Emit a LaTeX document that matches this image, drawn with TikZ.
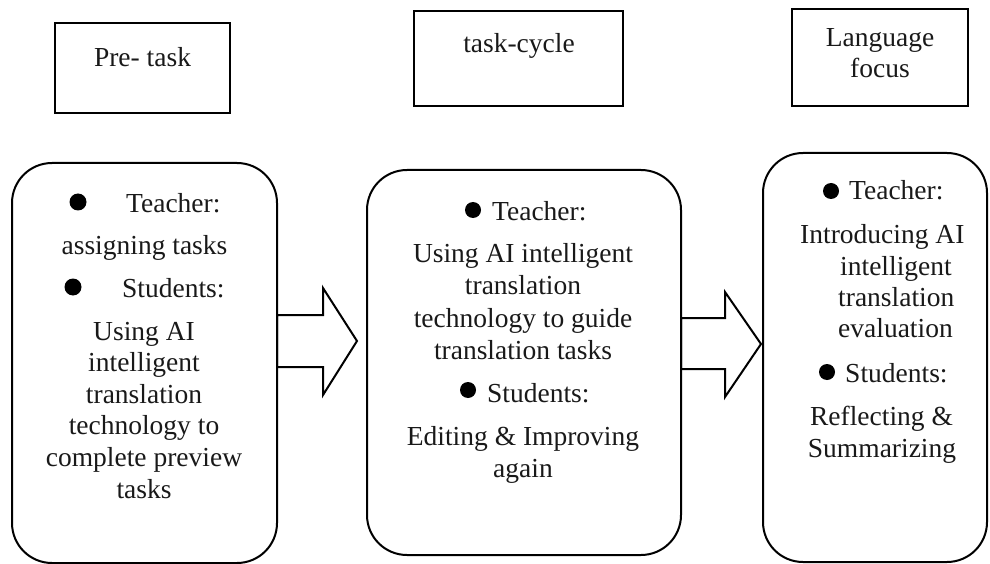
\documentclass[tikz,border=0pt]{standalone}
\usepackage{fontspec}
\setmainfont{Liberation Serif}
\begin{document}
\begin{tikzpicture}[x=1pt,y=-1pt,
  txt/.style={inner sep=0pt,font=\fontsize{27.5}{32}\selectfont,text=black!90},
  headbox/.style={draw,line width=2.6pt,inner sep=0pt},
  phasebox/.style={draw,line width=2pt,rounded corners=40pt,inner sep=0pt},
  dot/.style={circle,fill=black,inner sep=0pt,minimum size=16pt},
  blockarrow/.style={draw,line width=2pt,line join=miter}
]
\useasboundingbox (0,0) rectangle (990,564);

% header boxes
\node[headbox,minimum width=175pt,minimum height=90pt] (h1) at (142.5,68) {};
\node[headbox,minimum width=209pt,minimum height=95pt] (h2) at (518.5,58.5) {};
\node[headbox,minimum width=176pt,minimum height=97pt] (h3) at (880,57.5) {};
\node[txt,anchor=base] (h1t) at (142.5,67) {Pre- task};
\node[txt,anchor=base] (h2t) at (519,53) {task-cycle};
\node[txt,anchor=base] (h3a) at (880,47) {Language};
\node[txt,anchor=base] (h3b) at (880,78) {focus};

% phase boxes
\node[phasebox,minimum width=265pt,minimum height=400pt] (p1) at (144.5,363) {};
\node[phasebox,minimum width=314pt,minimum height=385pt] (p2) at (524,362.5) {};
\node[phasebox,minimum width=224pt,minimum height=409pt] (p3) at (875,357.5) {};

% block arrows
\draw[blockarrow] (277,315) -- (323,315) -- (323,288) -- (357,341) -- (323,395) -- (323,367) -- (277,367) -- cycle;
\draw[blockarrow] (681,318) -- (725,318) -- (725,292) -- (761,344) -- (725,397) -- (725,369) -- (681,369) -- cycle;

% left box text
\node[dot,minimum size=17pt] (b1) at (78,202) {};
\node[txt,anchor=base west] (l1) at (126,212) {Teacher:};
\node[txt,anchor=base] (l2) at (144.5,254) {assigning tasks};
\node[dot,minimum size=17pt] (b2) at (73,287) {};
\node[txt,anchor=base west] (l3) at (122,297) {Students:};
\node[txt,anchor=base] (l4) at (144,340) {Using AI};
\node[txt,anchor=base] (l5) at (144,371.6) {intelligent};
\node[txt,anchor=base] (l6) at (144,403.2) {translation};
\node[txt,anchor=base] (l7) at (144,434.8) {technology to};
\node[txt,anchor=base] (l8) at (144,466.4) {complete preview};
\node[txt,anchor=base] (l9) at (144,498) {tasks};

% middle box text
\node[dot] (b3) at (473,210) {};
\node[txt,anchor=base west] (m1) at (492,220) {Teacher:};
\node[txt,anchor=base] (m2) at (523,262) {Using AI intelligent};
\node[txt,anchor=base] (m3) at (523,294.5) {translation};
\node[txt,anchor=base] (m4) at (523,327) {technology to guide};
\node[txt,anchor=base] (m5) at (523,359) {translation tasks};
\node[dot] (b4) at (468,390) {};
\node[txt,anchor=base west] (m6) at (487,402) {Students:};
\node[txt,anchor=base] (m7) at (523,445) {Editing \& Improving};
\node[txt,anchor=base] (m8) at (523,477) {again};

% right box text
\node[dot] (b5) at (831,191) {};
\node[txt,anchor=base west] (r1) at (849,200) {Teacher:};
\node[txt,anchor=base west] (r2) at (800,243) {Introducing AI};
\node[txt,anchor=base west] (r3) at (840,275) {intelligent};
\node[txt,anchor=base west] (r4) at (838,306.5) {translation};
\node[txt,anchor=base west] (r5) at (838,337.5) {evaluation};
\node[dot] (b6) at (827,372) {};
\node[txt,anchor=base west] (r6) at (845,382) {Students:};
\node[txt,anchor=base] (r7) at (881.5,425) {Reflecting \&};
\node[txt,anchor=base] (r8) at (882,457) {Summarizing};
\end{tikzpicture}
\end{document}
